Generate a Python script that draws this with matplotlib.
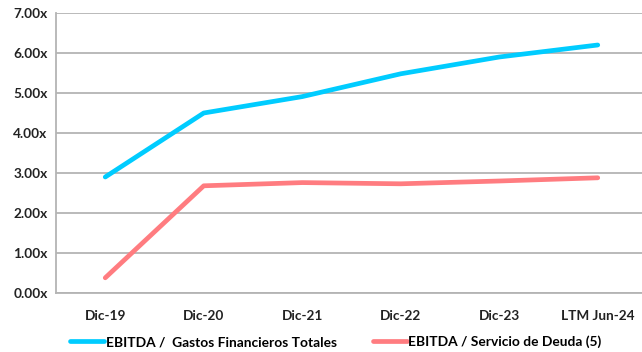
import matplotlib.pyplot as plt
import numpy as np

plt.rcParams['font.family'] = ['Lato', 'DejaVu Sans']
plt.rcParams['font.weight'] = 'bold'

# data
periodos = ['Dic-19', 'Dic-20', 'Dic-21', 'Dic-22', 'Dic-23', 'LTM Jun-24']
gastos_fin = [2.90, 4.50, 4.91, 5.48, 5.90, 6.20]
servicio_deuda = [0.38, 2.68, 2.76, 2.73, 2.80, 2.88]
serie_labels = ['EBITDA /  Gastos Financieros Totales', 'EBITDA / Servicio de Deuda (5)']

fig = plt.figure(figsize=(6.42, 3.52), dpi=100)
ax = fig.add_axes([56/642, 59/352, 591/642, 280/352])

x = np.arange(len(periodos))
ax.plot(x, gastos_fin, color='#00CCFF', lw=3.4, solid_capstyle='round', label=serie_labels[0])
ax.plot(x, servicio_deuda, color='#FF7C80', lw=3.4, solid_capstyle='round', label=serie_labels[1])

ax.set_xlim(-0.5, len(periodos) - 0.5)
ax.set_ylim(0, 7)
ax.set_yticks(np.arange(0, 8, 1))
ax.set_yticklabels(['%.2fx' % v for v in np.arange(0, 8, 1)])
ax.set_xticks(x)
ax.set_xticklabels(periodos)
ax.tick_params(length=0, labelsize=9.8, colors='#222222')
ax.tick_params(axis='x', pad=12)
ax.tick_params(axis='y', pad=6)

ax.grid(axis='y', color='#b4b4b4', lw=1.3)
ax.set_axisbelow(True)
for s in ['top', 'right']:
    ax.spines[s].set_visible(False)
for s in ['left', 'bottom']:
    ax.spines[s].set_color('#b4b4b4')
    ax.spines[s].set_linewidth(1.3)

fig.legend(loc='lower center', bbox_to_anchor=(0.523, -0.025), ncol=2, frameon=False,
           fontsize=9.9, handlelength=2.5, handletextpad=0.1, columnspacing=2.6)

fig.savefig('out.png', dpi=100)
